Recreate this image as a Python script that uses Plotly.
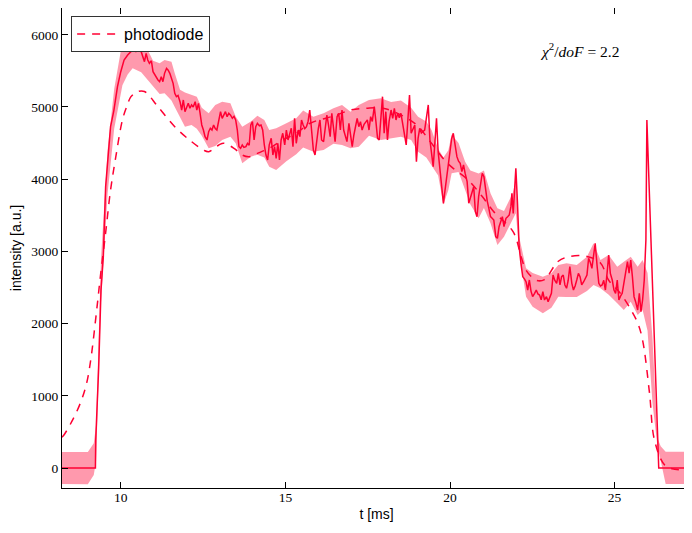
import plotly.graph_objects as go

# measured signal (solid)
sig_t = [8.21, 9.23, 9.24, 9.33, 9.40, 9.47, 9.54, 9.59, 9.69, 9.79, 9.90, 10.00, 10.10, 10.21,
         10.36, 10.46, 10.56, 10.62, 10.72, 10.77, 10.82, 10.87, 10.93, 10.98, 11.03, 11.08,
         11.13, 11.18, 11.23, 11.28, 11.33, 11.39, 11.44, 11.49, 11.54, 11.59, 11.64, 11.69,
         11.74, 11.80, 11.85, 11.90, 11.95, 12.00, 12.05, 12.10, 12.15, 12.20, 12.26, 12.31,
         12.36, 12.41, 12.46, 12.51, 12.56, 12.62, 12.67, 12.72, 12.77, 12.82, 12.87, 12.92,
         12.98, 13.03, 13.08, 13.13, 13.18, 13.23, 13.28, 13.33, 13.39, 13.44, 13.49, 13.54,
         13.59, 13.64, 13.69, 13.74, 13.80, 13.85, 13.90, 13.95, 14.00, 14.05, 14.10, 14.15,
         14.21, 14.26, 14.31, 14.36, 14.41, 14.46, 14.51, 14.57, 14.62, 14.67, 14.72, 14.77,
         14.82, 14.87, 14.92, 14.98, 15.03, 15.08, 15.13, 15.18, 15.23, 15.28, 15.33, 15.39,
         15.44, 15.49, 15.54, 15.59, 15.64, 15.69, 15.74, 15.80, 15.85, 15.90, 15.95, 16.00,
         16.05, 16.10, 16.16, 16.21, 16.26, 16.31, 16.36, 16.41, 16.46, 16.51, 16.57, 16.62,
         16.67, 16.72, 16.77, 16.82, 16.87, 16.93, 16.98, 17.03, 17.08, 17.13, 17.18, 17.23,
         17.28, 17.33, 17.39, 17.44, 17.49, 17.54, 17.59, 17.64, 17.70, 17.75, 17.80, 17.85,
         17.90, 17.95, 18.00, 18.05, 18.10, 18.15, 18.21, 18.26, 18.31, 18.36, 18.41, 18.46,
         18.51, 18.56, 18.62, 18.67, 18.72, 18.77, 18.82, 18.87, 18.93, 18.98, 19.03, 19.08,
         19.13, 19.23, 19.28, 19.34, 19.39, 19.44, 19.49, 19.54, 19.59, 19.64, 19.70, 19.75,
         19.80, 19.85, 19.90, 19.95, 20.00, 20.05, 20.10, 20.16, 20.21, 20.26, 20.31, 20.36,
         20.41, 20.46, 20.52, 20.57, 20.62, 20.67, 20.72, 20.77, 20.82, 20.87, 20.93, 20.98,
         21.03, 21.08, 21.13, 21.18, 21.23, 21.28, 21.33, 21.39, 21.44, 21.49, 21.54, 21.59,
         21.64, 21.70, 21.75, 21.80, 21.85, 21.88, 21.92, 21.95, 22.00, 22.05, 22.10, 22.16,
         22.21, 22.26, 22.31, 22.36, 22.41, 22.46, 22.51, 22.57, 22.62, 22.67, 22.72, 22.77,
         22.82, 22.87, 22.93, 22.98, 23.03, 23.08, 23.13, 23.18, 23.24, 23.29, 23.34, 23.39,
         23.44, 23.49, 23.54, 23.59, 23.64, 23.70, 23.75, 23.80, 23.85, 23.90, 23.95, 24.00,
         24.06, 24.11, 24.16, 24.21, 24.26, 24.31, 24.36, 24.41, 24.47, 24.52, 24.57, 24.62,
         24.67, 24.72, 24.77, 24.82, 24.87, 24.93, 24.98, 25.03, 25.08, 25.13, 25.18, 25.23,
         25.28, 25.34, 25.39, 25.44, 25.49, 25.54, 25.59, 25.64, 25.70, 25.75, 25.80, 25.85,
         25.90, 25.95, 25.98, 26.34, 27.35]
sig_v = [0, 0, 390, 1400, 2465, 2927, 3896, 4173, 4727, 4950, 5281, 5489, 5651, 5720,
         5789, 5766, 5812, 5766, 5627, 5743, 5651, 5605, 5640, 5489, 5443, 5397,
         5374, 5351, 5420, 5351, 5466, 5535, 5510, 5466, 5397, 5328, 5189, 5143,
         5160, 5073, 4958, 5097, 4935, 4982, 5051, 4982, 5028, 5000, 5073, 4958,
         5051, 4912, 4751, 4681, 4589, 4543, 4658, 4705, 4680, 4751, 4700, 4681,
         4843, 4935, 4843, 4889, 4935, 4866, 4912, 4890, 4843, 4870, 4820, 4681,
         4450, 4428, 4474, 4440, 4450, 4497, 4470, 4751, 4797, 4543, 4727, 4774,
         4740, 4751, 4681, 4474, 4335, 4266, 4474, 4566, 4335, 4450, 4289, 4497,
         4266, 4543, 4636, 4474, 4681, 4543, 4612, 4705, 4450, 4843, 4497, 4681,
         4589, 4820, 4751, 4700, 4727, 4800, 4958, 4681, 4404, 4335, 4566, 4700,
         4820, 4543, 4520, 4700, 4889, 4750, 4589, 4912, 4700, 4520, 4866, 4912,
         4681, 4958, 4681, 4600, 4520, 4774, 4612, 4450, 4612, 4730, 4843, 4727,
         4797, 4681, 4760, 4790, 4820, 4681, 4866, 4800, 5004, 4797, 4566, 4543,
         4912, 5143, 4636, 4935, 4543, 4800, 4958, 4843, 4982, 4820, 4912, 4850,
         4912, 4774, 4589, 4474, 4820, 5166, 4636, 4700, 4751, 4243, 4566, 4705,
         4640, 4681, 4850, 5028, 4543, 4350, 4174, 4500, 4843, 4381, 4100, 3850,
         3666, 3850, 4012, 4174, 4400, 4560, 4636, 4450, 4312, 4250, 4220, 4105,
         4197, 4080, 3966, 3666, 3750, 3827, 3896, 3550, 3481, 3758, 3950, 4082,
         4036, 3850, 3700, 3597, 3481, 3460, 3435, 3204, 3181, 3342, 3420, 3481,
         3342, 3458, 3480, 3504, 3620, 3804, 3527, 3850, 4151, 3666, 3065, 2812,
         2650, 2620, 2580, 2465, 2604, 2450, 2373, 2420, 2465, 2410, 2396, 2330,
         2442, 2327, 2373, 2304, 2360, 2419, 2673, 2600, 2558, 2696, 2535, 2650,
         2673, 2535, 2489, 2600, 2788, 2558, 2465, 2520, 2604, 2696, 2650, 2535,
         2580, 2630, 2673, 2904, 2850, 2766, 2927, 3112, 2788, 2558, 2520, 2535,
         2600, 2465, 2696, 2950, 2696, 2600, 2465, 2419, 2604, 2327, 2380, 2419,
         2558, 2700, 2858, 2700, 2881, 2650, 2373, 2300, 2188, 2419, 2165, 2327,
         2604, 3158, 4820, 0, 0]

# uncertainty band
band_t = [8.21, 9.00, 9.18, 9.25, 9.40, 9.60, 9.80, 10.05, 10.21, 10.36, 10.62, 10.82, 10.98,
          11.18, 11.33, 11.54, 11.64, 11.80, 11.95, 12.15, 12.31, 12.46, 12.67, 12.87, 13.08,
          13.33, 13.49, 13.69, 13.95, 14.15, 14.36, 14.51, 14.72, 15.03, 15.33, 15.54, 15.85,
          16.16, 16.46, 16.72, 16.98, 17.23, 17.54, 17.90, 18.21, 18.51, 18.82, 19.03, 19.28,
          19.44, 19.64, 19.80, 19.95, 20.05, 20.26, 20.46, 20.62, 20.87, 21.03, 21.23, 21.44,
          21.64, 21.90, 22.00, 22.10, 22.31, 22.51, 22.82, 23.08, 23.29, 23.54, 23.85, 24.16,
          24.36, 24.57, 24.82, 25.08, 25.28, 25.49, 25.70, 25.85, 26.00, 26.15, 26.30, 26.40,
          26.55, 27.35]
band_hi = [222, 222, 342, 600, 2900, 4400, 5250, 5905, 5997, 5990, 5920, 5789, 5640,
           5605, 5651, 5627, 5466, 5240, 5200, 5166, 5143, 4990, 4912, 5028, 5073,
           5051, 4870, 4727, 4800, 4880, 4820, 4681, 4705, 4774, 4843, 4950, 4866,
           4912, 4982, 5028, 4935, 5028, 5097, 5120, 5070, 5090, 4990, 4866, 4800,
           4681, 4420, 4300, 4400, 4620, 4500, 4243, 4120, 4080, 4120, 3804, 3597,
           3560, 3800, 3989, 3204, 2766, 2700, 2650, 2696, 2812, 2835, 2812, 2927,
           3112, 2881, 2950, 2788, 2858, 2927, 2788, 2881, 2700, 1800, 415, 300,
           225, 225]
band_lo = [-222, -226, -97, 100, 2300, 3800, 4700, 5300, 5450, 5535, 5480, 5374, 5300,
           5180, 5190, 5090, 5000, 4860, 4727, 4751, 4700, 4600, 4428, 4460, 4543,
           4589, 4497, 4220, 4312, 4340, 4300, 4174, 4127, 4250, 4345, 4440, 4381,
           4404, 4490, 4474, 4428, 4450, 4600, 4543, 4566, 4589, 4543, 4381, 4300,
           4197, 4050, 3650, 3850, 4082, 4100, 3850, 3650, 3458, 3600, 3389, 3089,
           3204, 3435, 3527, 3000, 2373, 2234, 2142, 2220, 2373, 2370, 2370, 2450,
           2535, 2489, 2400, 2281, 2188, 2304, 2119, 2188, 1900, 900, 300, 100,
           -222, -222]

# photodiode reference (dashed)
pd_t = [8.21, 8.25, 8.51, 8.77, 8.95, 9.08, 9.28, 9.38, 9.54, 9.69, 9.85, 10.05, 10.18,
        10.31, 10.51, 10.72, 11.13, 11.64, 12.15, 12.51, 12.67, 12.98, 13.13, 13.44, 13.69,
        13.90, 14.15, 14.51, 14.92, 15.33, 15.75, 16.50, 16.98, 17.44, 18.00, 18.93, 19.40,
        19.85, 20.10, 20.55, 20.98, 21.33, 21.92, 22.16, 22.31, 22.62, 22.87, 23.28, 23.64,
        24.16, 24.57, 24.82, 25.13, 25.44, 25.70, 25.85, 26.06, 26.21, 26.52, 26.83, 27.24,
        27.35]
pd_v = [430, 443, 641, 896, 1150, 1472, 2234, 2650, 3255, 3850, 4312, 4820, 5004,
        5143, 5212, 5215, 5004, 4727, 4520, 4404, 4381, 4474, 4497, 4428, 4335,
        4312, 4358, 4428, 4543, 4636, 4775, 4880, 4958, 4982, 4980, 4774, 4520,
        4256, 4150, 3990, 3760, 3550, 3270, 2927, 2740, 2600, 2610, 2860, 2930,
        2930, 2840, 2600, 2445, 2235, 2010, 1770, 1037, 388, 42, -18, -28,
        -30]

red = "#ff0033"
band_col = "rgba(255, 0, 51, 0.4)"
serif = "Liberation Serif, DejaVu Serif, serif"
sans = "Liberation Sans, Arial, sans-serif"

fig = go.Figure()
fig.add_trace(go.Scatter(x=band_t, y=band_lo, mode="lines", line=dict(width=0),
                         showlegend=False, hoverinfo="skip"))
fig.add_trace(go.Scatter(x=band_t, y=band_hi, mode="lines", line=dict(width=0),
                         fill="tonexty", fillcolor=band_col, showlegend=False, hoverinfo="skip"))
fig.add_trace(go.Scatter(x=sig_t, y=sig_v, mode="lines", line=dict(color=red, width=1.5),
                         showlegend=False))
fig.add_trace(go.Scatter(x=pd_t, y=pd_v, mode="lines", name="photodiode",
                         line=dict(color=red, width=1.5, dash="8px,7px", shape="spline")))

fig.add_annotation(x=0.823, y=0.9125, xref="paper", yref="paper", showarrow=False,
                   xanchor="center", yanchor="middle",
                   text="<i>χ</i><sup>2</sup>/<i>doF</i> = 2.2",
                   font=dict(family=serif, size=15.5, color="black"))

axis_common = dict(showline=True, linecolor="black", linewidth=1, mirror="ticks",
                   ticks="inside", ticklen=6, tickcolor="black", showgrid=False,
                   zeroline=False, automargin=False,
                   tickfont=dict(family=serif, size=13.5, color="black"))

fig.update_xaxes(range=[8.215, 27.32], tickvals=[10, 15, 20, 25], ticklabelstandoff=-3,
                 title=dict(text="t [ms]", font=dict(family=sans, size=14, color="black"), standoff=4),
                 **axis_common)
fig.update_yaxes(range=[-277, 6371], tickvals=[0, 1000, 2000, 3000, 4000, 5000, 6000],
                 title=dict(text="intensity [a.u.]", font=dict(family=sans, size=14, color="black"), standoff=6),
                 **axis_common)

# the page body adds an 8px offset, so the figure is drawn 8px smaller
fig.update_layout(width=684, height=525, margin=dict(l=54, r=1, t=0, b=45),
                  plot_bgcolor="white", paper_bgcolor="white",
                  legend=dict(x=0.0145, y=0.983, xanchor="left", yanchor="top",
                              itemwidth=42,
                              bgcolor="white", bordercolor="#333", borderwidth=1,
                              font=dict(family=sans, size=16, color="black")))

fig.write_html("out.html")
